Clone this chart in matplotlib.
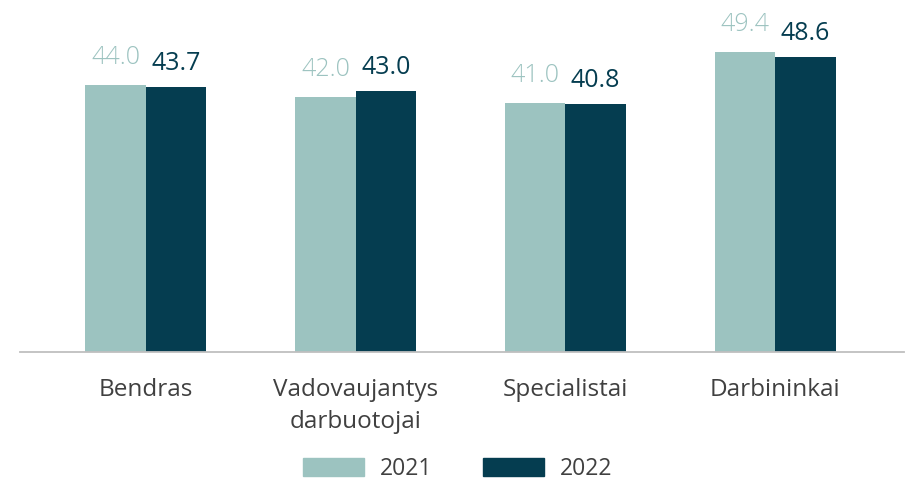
import matplotlib
matplotlib.use("Agg")
import matplotlib.pyplot as plt
import numpy as np
from matplotlib.patches import Patch

categories = ["Bendras", "Vadovaujantys\ndarbuotojai", "Specialistai", "Darbininkai"]
series_names = ["2021", "2022"]
values_2021 = [44.0, 42.0, 41.0, 49.4]
values_2022 = [43.7, 43.0, 40.8, 48.6]

c2021 = "#9CC3C0"
c2022 = "#053D50"
tick_color = "#404040"

plt.rcParams['font.family'] = ['Open Sans', 'DejaVu Sans']

fig = plt.figure(figsize=(9.12, 4.82), dpi=100)
ax = fig.add_axes([20/912, 130/482, 884/912, 352/482])

x = np.arange(len(categories))
w = 0.288
b1 = ax.bar(x - w/2, values_2021, w, color=c2021)
b2 = ax.bar(x + w/2, values_2022, w, color=c2022)

for rect, v in zip(b1, values_2021):
    ax.annotate(f"{v:.1f}", (rect.get_x() + rect.get_width()/2, v),
                xytext=(0, 11), textcoords="offset points", ha="center", va="bottom",
                fontsize=18, color=c2021, fontweight="light")
for rect, v in zip(b2, values_2022):
    ax.annotate(f"{v:.1f}", (rect.get_x() + rect.get_width()/2, v),
                xytext=(0, 8), textcoords="offset points", ha="center", va="bottom",
                fontsize=18, color=c2022, fontweight="normal")

ax.set_xlim(-0.6, 3.614)
ax.set_ylim(0, 58)
ax.set_yticks([])
ax.set_xticks(x)
ax.set_xticklabels(categories, fontsize=17.5, color=tick_color, linespacing=1.4)
ax.tick_params(axis='x', length=0, pad=19)
for s in ["top", "right", "left"]:
    ax.spines[s].set_visible(False)
ax.spines["bottom"].set_color("#BFBFBF")
ax.spines["bottom"].set_linewidth(1.3)

handles = [Patch(color=c2021), Patch(color=c2022)]
fig.legend(handles, series_names, loc="center", bbox_to_anchor=(0.502, 0.027),
           ncol=2, frameon=False, fontsize=16.5, handlelength=2.65, handleheight=0.8,
           handletextpad=0.7, columnspacing=2.2, labelcolor=tick_color,
           borderpad=0, borderaxespad=0)

fig.savefig("out.png", dpi=100)
